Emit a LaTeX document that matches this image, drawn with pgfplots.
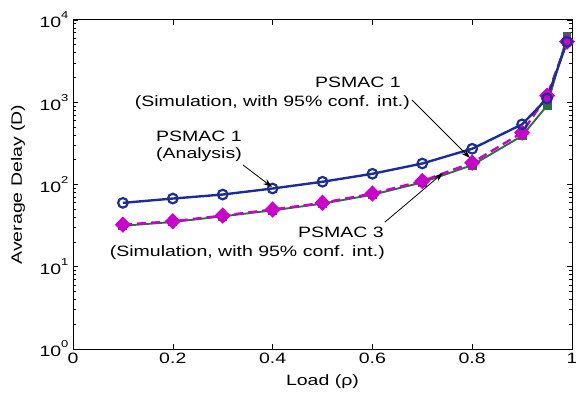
\documentclass[border=0pt]{standalone}
\usepackage{fontspec}
\setmainfont{Liberation Sans}[FakeStretch=1.3]
\usepackage{pgfplots}
\pgfplotsset{compat=1.18}
\usetikzlibrary{arrows.meta}
\definecolor{cblue}{RGB}{28,46,150}
\definecolor{cmag}{RGB}{204,0,204}
\definecolor{cgreen}{RGB}{45,110,65}
\newcommand\ff{\fontsize{15bp}{19bp}\selectfont}
\newcommand\ep[1]{10\raisebox{9bp}{\fontsize{10bp}{10bp}\selectfont #1}}
\begin{document}
\begin{tikzpicture}
\useasboundingbox (-73bp,-46bp) rectangle (503bp,349bp);
\begin{axis}[
  at={(0,0)}, anchor=south west,
  scale only axis, width=499bp, height=329bp,
  ymode=log, xmin=0, xmax=1, ymin=1, ymax=10000,
  xtick={0,0.2,0.4,0.6,0.8,1},
  xticklabels={0,0.2,0.4,0.6,0.8,1},
  ytick={1,10,100,1000,10000},
  yticklabels={\ep{0},\ep{1},\ep{2},\ep{3},\ep{4}},
  tick align=inside, xtick pos=both, ytick pos=both,
  xticklabel pos=lower, yticklabel pos=left,
  major tick length=5bp, minor tick length=3bp,
  every tick/.style={black, line width=0.6pt},
  axis line style={black, line width=1pt},
  tick label style={font=\ff},
  xticklabel style={yshift=-1bp},
  yticklabel style={xshift=-1bp},
  label style={font=\ff},
  xlabel={Load (ρ)},
  ylabel={Average Delay (D)},
  xlabel style={at={(axis description cs:0.5,-0.10)}, anchor=center},
  ylabel style={at={(axis description cs:-0.11,0.5)}, anchor=center},
  clip=false,
]
% PSMAC 3 simulation (green)
\addplot[cgreen, line width=1.9pt, mark=square*, mark size=3.5bp, mark options={solid}] coordinates {
(0.1,31.5) (0.2,35) (0.3,41) (0.4,48.5) (0.5,58.5) (0.6,75) (0.7,106) (0.8,172) (0.9,390) (0.95,910) (0.99,6300)};
% PSMAC 1 simulation (magenta dashed)
\addplot[cmag, line width=2.4pt, dash pattern=on 9bp off 5bp, mark=diamond*, mark size=6.5bp, mark options={solid, xscale=1.3},
  error bars/.cd, y dir=both, y explicit, error bar style={solid, line width=1.3pt, cmag}, error mark options={rotate=90, mark size=3bp, solid, cmag}]
coordinates {
(0.1,32.5) (0.2,35.7) (0.3,41.9) (0.4,49.6) (0.5,59.8) (0.6,77.6) (0.7,110) (0.8,184) (0.9,427) +- (0,25) (0.95,1200) +- (0,150) (0.99,5450) +- (0,300)};
% PSMAC 1 analysis (blue)
\addplot[cblue, line width=2.4pt, mark=o, mark size=4.8bp, mark options={solid, fill=white, line width=2.2pt}] coordinates {
(0.1,59.8) (0.2,67.5) (0.3,75.5) (0.4,89.4) (0.5,108) (0.6,135) (0.7,180) (0.8,272) (0.9,539) (0.95,1110) (0.99,5435)};
\end{axis}
% annotations (picture coordinates relative to the axis box)
\node[font=\ff, anchor=west, inner sep=0] at (83bp,213bp) {PSMAC 1};
\node[font=\ff, anchor=west, inner sep=0] at (83bp,194bp) {(Analysis)};
\draw[line width=0.8pt, -{Stealth[length=9bp, width=6bp]}] (170bp,184bp) -- (199bp,162bp);
\node[font=\ff, anchor=east, inner sep=0] at (328bp,267bp) {PSMAC 1};
\node[font=\ff, anchor=east, inner sep=0] at (337bp,246bp) {(Simulation, with 95\% conf. int.)};
\draw[line width=0.8pt, -{Stealth[length=9bp, width=6bp]}] (339bp,249bp) -- (397bp,191bp);
\node[font=\ff, anchor=east, inner sep=0] at (311bp,117bp) {PSMAC 3};
\node[font=\ff, anchor=east, inner sep=0] at (312bp,96bp) {(Simulation, with 95\% conf. int.)};
\draw[line width=0.8pt, -{Stealth[length=9bp, width=6bp]}] (312bp,127bp) -- (370bp,176bp);
\end{tikzpicture}
\end{document}
